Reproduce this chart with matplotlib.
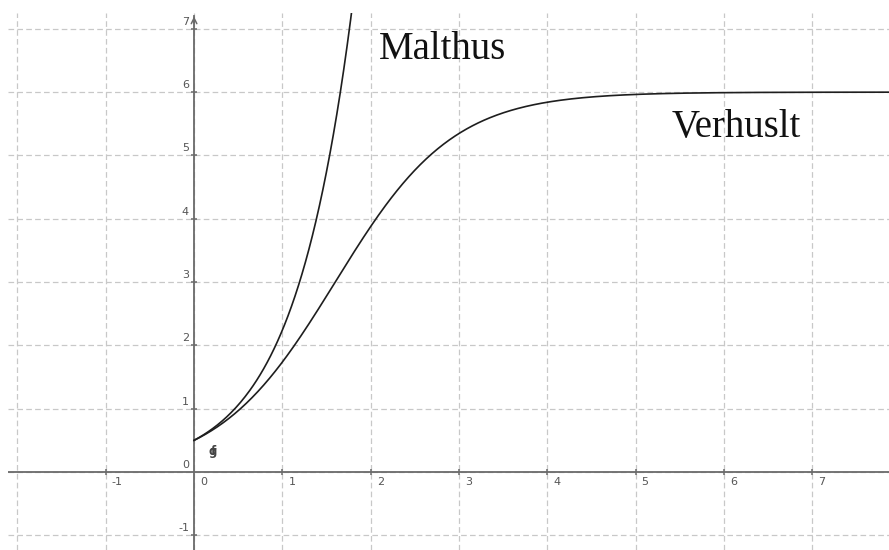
import numpy as np
import matplotlib
matplotlib.use('Agg')
import matplotlib.pyplot as plt

# model parameters (initial population, growth rate, carrying capacity)
p0 = 0.5
rate = 1.5
capacity = 6.0

x_ticks = [-1, 0, 1, 2, 3, 4, 5, 6, 7]
y_ticks = [-1, 0, 1, 2, 3, 4, 5, 6, 7]
x_grid = [-2, -1, 0, 1, 2, 3, 4, 5, 6, 7]
y_grid = [-1, 0, 1, 2, 3, 4, 5, 6, 7]

xmin, xmax = -2.107, 7.87
ymin, ymax = -1.232, 7.25

t = np.linspace(0, xmax, 600)
malthus = p0 * np.exp(rate * t)
verhulst = capacity / (1 + (capacity / p0 - 1) * np.exp(-rate * t))

fig = plt.figure(figsize=(8.89, 5.5), dpi=100)
ax = fig.add_axes([8 / 889, 0, 881 / 889, 537 / 550])
ax.set_xlim(xmin, xmax)
ax.set_ylim(ymin, ymax)
ax.axis('off')

grid_col = '#c8c8c8'
dash = (0, (4.5, 2.6))
for gx in x_grid:
    ax.axvline(gx, color=grid_col, lw=0.9, ls=dash, zorder=1)
for gy in y_grid:
    ax.axhline(gy, color=grid_col, lw=0.9, ls=dash, zorder=1)

# axes through the origin
axis_col = '#6a6a6a'
ax.axhline(0, color=axis_col, lw=1.3, zorder=2)
ax.plot([0, 0], [ymin, 7.2], color=axis_col, lw=1.3, zorder=2)
ax.annotate('', xy=(0, 7.24), xytext=(0, 7.05),
            arrowprops=dict(arrowstyle='->', color=axis_col, lw=1.1), zorder=2)

tick_x = [v for v in x_ticks if v != 0]
tick_y = [v for v in y_ticks if v != 0]
ax.plot(tick_x, [0] * len(tick_x), ls='none', marker='|', ms=5, mew=1.1,
        color=axis_col, zorder=2)
ax.plot([0] * len(tick_y), tick_y, ls='none', marker='_', ms=5, mew=1.1,
        color=axis_col, zorder=2)

lab_col = '#555555'
for v in x_ticks:
    ax.annotate(str(v), (v, 0), xytext=(6, -5), textcoords='offset pixels',
                ha='left', va='top', fontsize=8, color=lab_col,
                fontfamily='DejaVu Sans')
for v in y_ticks:
    ax.annotate(str(v), (0, v), xytext=(-5, 2), textcoords='offset pixels',
                ha='right', va='bottom', fontsize=8, color=lab_col,
                fontfamily='DejaVu Sans')

# curves
ax.plot(t, malthus, color='#1e1e1e', lw=1.2, zorder=3)
ax.plot(t, verhulst, color='#1e1e1e', lw=1.2, zorder=3)

# function names overlapping near the origin
ax.text(0.215, 0.33, 'f', ha='center', va='center', fontsize=8.5,
        color='#444444', fontweight='bold')
ax.text(0.215, 0.33, 'g', ha='center', va='center', fontsize=8.5,
        color='#444444', fontweight='bold')

ax.text(2.81, 6.52, 'Malthus', ha='center', va='baseline', fontsize=28,
        fontfamily='Liberation Serif', color='#111111')
ax.text(6.14, 5.29, 'Verhuslt', ha='center', va='baseline', fontsize=28,
        fontfamily='Liberation Serif', color='#111111')

fig.savefig('out.png', dpi=100)
